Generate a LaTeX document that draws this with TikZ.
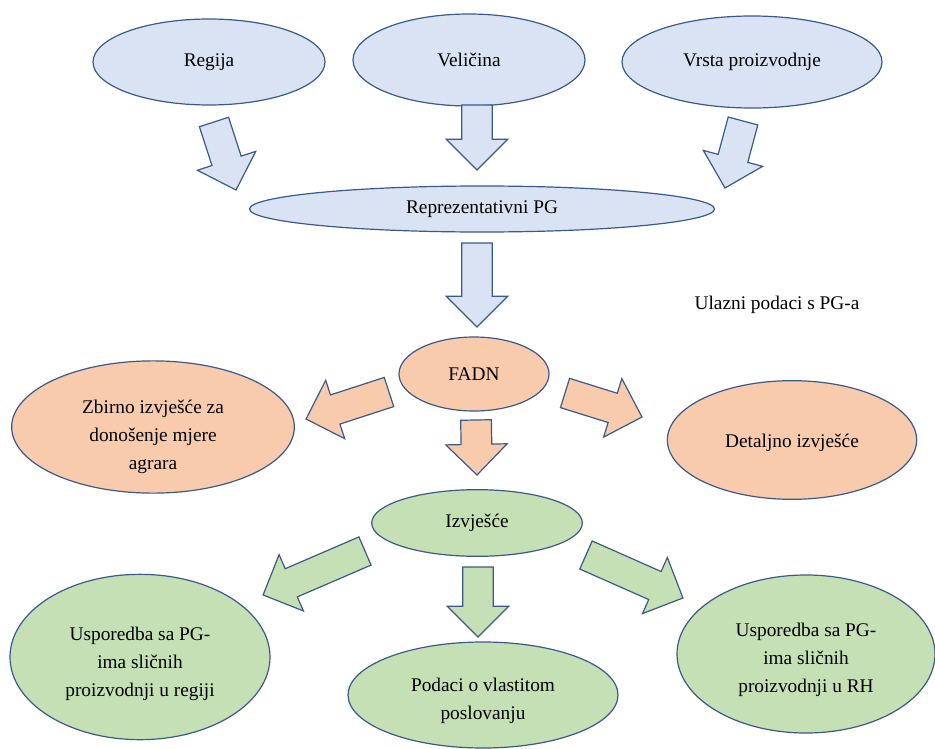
\documentclass[tikz,border=0pt]{standalone}
\usepackage{fontspec}
\setmainfont{Liberation Serif}
\usetikzlibrary{shapes.geometric}

\definecolor{lineblue}{HTML}{3A5A8C}
\definecolor{fillblue}{HTML}{DAE3F3}
\definecolor{fillorange}{HTML}{F8CBAD}
\definecolor{fillgreen}{HTML}{C5E0B4}

% block arrow from tail #2 to tip #3
\newcommand\blockarrow[3]{%
  \path (#2); \pgfgetlastxy{\barax}{\baray}%
  \path (#3); \pgfgetlastxy{\barbx}{\barby}%
  \pgfmathsetmacro\barang{atan2(\barby-\baray,\barbx-\barax)}%
  \pgfmathsetmacro\barlen{veclen(\barbx-\barax,\barby-\baray)}%
  \draw[#1, shift={(#2)}, rotate=\barang]
    (0pt,-11.5pt) -- (\barlen pt-23pt,-11.5pt) -- (\barlen pt-23pt,-23pt)
    -- (\barlen pt,0pt) -- (\barlen pt-23pt,23pt) -- (\barlen pt-23pt,11.5pt)
    -- (0pt,11.5pt) -- cycle;}

\begin{document}
\begin{tikzpicture}[
    x = 0.75pt, y = -0.75pt,
    font = \fontsize{14.5pt}{21pt}\selectfont,
    bubble/.style = {
      ellipse,
      draw = lineblue, line width = 0.9pt,
      align = center,
      inner sep = 0pt,
    },
    blue/.style = {bubble, fill = fillblue},
    orange/.style = {bubble, fill = fillorange},
    green/.style = {bubble, fill = fillgreen},
    arr/.style = {draw = lineblue, line width = 0.9pt, line join = miter},
  ]
  \useasboundingbox (0,0) rectangle (935,749);

  \node[blue, minimum width = 174pt, minimum height = 64.5pt] (regija) at (209,62) {Regija};
  \node[blue, minimum width = 174pt, minimum height = 69pt] (velicina) at (469,60) {Veličina};
  \node[blue, minimum width = 195pt, minimum height = 69pt] (vrsta) at (752,62) {Vrsta proizvodnje};
  \node[blue, minimum width = 348.75pt, minimum height = 34.5pt] (rep) at (482,209) {Reprezentativni PG};

  \node at (777,305) (ulaz) {Ulazni podaci s PG-a};

  \node[orange, minimum width = 112.5pt, minimum height = 55.5pt] (fadn) at (474,374) {FADN};
  \node[orange, minimum width = 212pt, minimum height = 96pt] (zbirno) at (153,427)
    {\rule{0pt}{25pt}Zbirno izvješće za\\donošenje mjere\\agrara};
  \node[orange, minimum width = 187pt, minimum height = 89pt] (detalj) at (792,440)
    {\rule{0pt}{14pt}Detaljno izvješće};

  \node[green, minimum width = 158pt, minimum height = 50pt] (izvj) at (477,523) {Izvješće};
  \node[green, minimum width = 195pt, minimum height = 124pt] (usreg) at (140,657)
    {\rule{0pt}{20pt}Usporedba sa PG-\\ima sličnih\\proizvodnji u regiji};
  \node[green, minimum width = 202.5pt, minimum height = 79.5pt] (podaci) at (483,695)
    {\rule{0pt}{19pt}Podaci o vlastitom\\poslovanju};
  \node[green, minimum width = 193.5pt, minimum height = 118.5pt] (usrh) at (806,654)
    {\rule{0pt}{19pt}Usporedba sa PG-\\ima sličnih\\proizvodnji u RH};

  \coordinate (a1) at (214,122); \coordinate (b1) at (236,190);
  \coordinate (a2) at (477,105); \coordinate (b2) at (477,170);
  \coordinate (a3) at (743,121); \coordinate (b3) at (725,188);
  \coordinate (a4) at (477,243); \coordinate (b4) at (477,327);
  \coordinate (a5) at (389,392); \coordinate (b5) at (306,419);
  \coordinate (a6) at (476,420); \coordinate (b6) at (477,475);
  \coordinate (a7) at (565,393); \coordinate (b7) at (642,417);
  \coordinate (a8) at (365,551); \coordinate (b8) at (263,595);
  \coordinate (a9) at (478,567); \coordinate (b9) at (478,637);
  \coordinate (a10) at (586,555); \coordinate (b10) at (683,598);

  \blockarrow{arr, fill = fillblue}{a1}{b1}
  \blockarrow{arr, fill = fillblue}{a2}{b2}
  \blockarrow{arr, fill = fillblue}{a3}{b3}
  \blockarrow{arr, fill = fillblue}{a4}{b4}

  \blockarrow{arr, fill = fillorange}{a5}{b5}
  \blockarrow{arr, fill = fillorange}{a6}{b6}
  \blockarrow{arr, fill = fillorange}{a7}{b7}

  \blockarrow{arr, fill = fillgreen}{a8}{b8}
  \blockarrow{arr, fill = fillgreen}{a9}{b9}
  \blockarrow{arr, fill = fillgreen}{a10}{b10}

\end{tikzpicture}
\end{document}
